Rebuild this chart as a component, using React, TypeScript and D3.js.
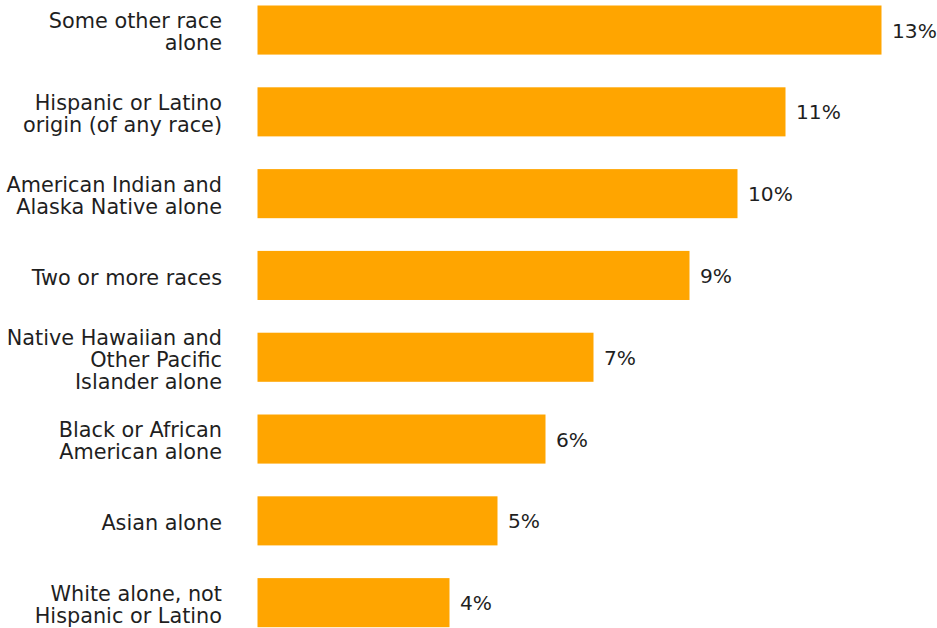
import React from "react";
import * as d3 from "d3";

const categories: string[][] = [
  ["Some other race", "alone"],
  ["Hispanic or Latino", "origin (of any race)"],
  ["American Indian and", "Alaska Native alone"],
  ["Two or more races"],
  ["Native Hawaiian and", "Other Pacific", "Islander alone"],
  ["Black or African", "American alone"],
  ["Asian alone"],
  ["White alone, not", "Hispanic or Latino"],
];
const values: number[] = [13, 11, 10, 9, 7, 6, 5, 4];
const valueLabels: string[] = ["13%", "11%", "10%", "9%", "7%", "6%", "5%", "4%"];

const W = 937;
const H = 628;

export default function App() {
  const keys = categories.map((c) => c.join(" "));
  const y = d3
    .scaleBand<string>()
    .domain(keys)
    .range([5.5, 627.2])
    .paddingInner(0.4)
    .paddingOuter(0);
  const x = d3.scaleLinear().domain([0, 13]).range([257.5, 881.5]);
  const lh = 22;
  const fs = 20.8;
  const vfs = 20.2;
  const font = "DejaVu Sans, sans-serif";
  const color = "#1f1f1f";
  return (
    <svg
      width={W}
      height={H}
      style={{ position: "absolute", left: 0, top: 0, display: "block" }}
    >
      <rect width={W} height={H} fill="#fff" />
      {keys.map((k, i) => {
        const y0 = y(k)!;
        const cy = y0 + y.bandwidth() / 2;
        const lines = categories[i];
        return (
          <g key={k}>
            <rect
              x={x(0)}
              y={y0}
              width={x(values[i]) - x(0)}
              height={y.bandwidth()}
              fill="#FFA500"
            />
            <text
              x={222}
              y={cy}
              textAnchor="end"
              fontFamily={font}
              fontSize={fs}
              fill={color}
            >
              {lines.map((ln, j) => (
                <tspan
                  key={j}
                  x={222}
                  y={cy + 2 + (j - (lines.length - 1) / 2) * lh}
                  dy="0.35em"
                >
                  {ln}
                </tspan>
              ))}
            </text>
            <text
              x={x(values[i]) + 10.5}
              y={cy + 0.5}
              dy="0.35em"
              fontFamily={font}
              fontSize={vfs}
              fill={color}
            >
              {valueLabels[i]}
            </text>
          </g>
        );
      })}
    </svg>
  );
}
